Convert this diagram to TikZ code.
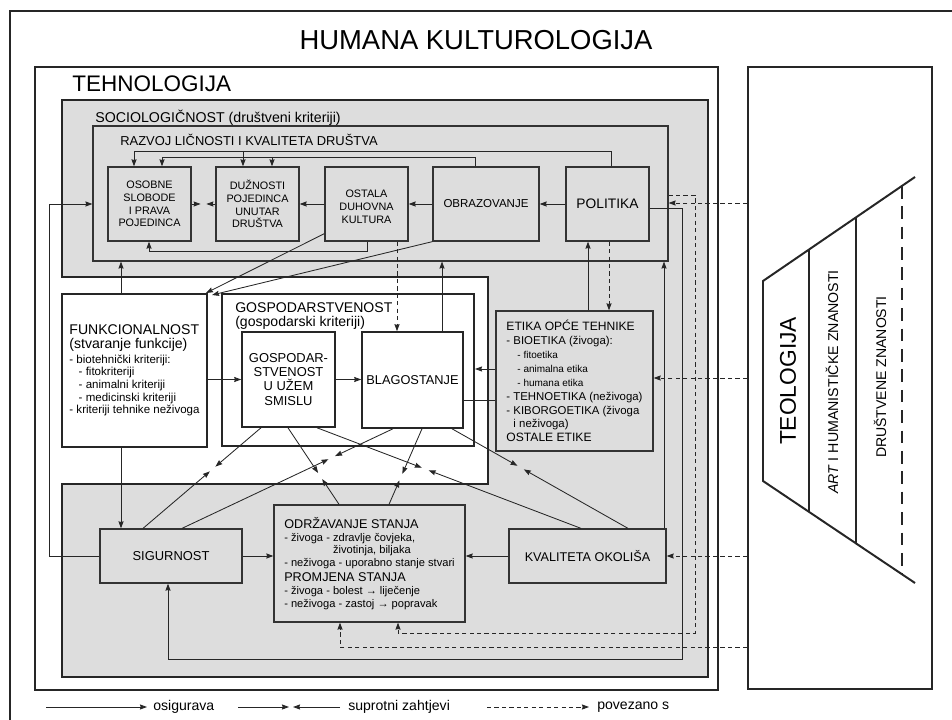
\documentclass[tikz,border=0pt]{standalone}
\usepackage{fontspec}
\setmainfont{Liberation Sans}
\usetikzlibrary{positioning,calc,arrows.meta}
\definecolor{panelgray}{gray}{0.865}
\tikzset{
  sz/.style 2 args={minimum width=#1*0.025cm, minimum height=#2*0.025cm},
  frame/.style={draw=black!85, line width=1.5pt},
  box/.style={draw=black!80, line width=0.9pt, fill=panelgray, align=center, inner sep=0pt},
  wbox/.style={draw=black!85, line width=1.4pt, fill=white, align=center, inner sep=0pt},
  osig/.style={draw=black!85, line width=0.6pt, -{Stealth[length=5pt,width=3.6pt,inset=0.5pt]}},
  pov/.style={osig, dash pattern=on 3pt off 2.3pt},
  lbl/.style={anchor=base west, inner sep=0pt},
}
\newcommand{\fsz}[2]{\fontsize{#1}{#2}\selectfont}

\begin{document}
\begin{tikzpicture}[x=0.025cm, y=-0.025cm]
\useasboundingbox (0,0) rectangle (952,720);

% outer frame and title
\draw[frame] (10,720) -- (10,11) -- (952,11);
\node[inner sep=0pt, anchor=base, font=\fsz{19.5}{22}] (title) at (476,50) {HUMANA KULTUROLOGIJA};

% tehnologija
\node[frame, sz={683}{623}] (tehno) at (376.5,378.5) {};
\node[lbl, font=\fsz{16}{18}] (tehnol) at (72,92) {TEHNOLOGIJA};

% gray region (sociologicnost + right column + lower part)
\draw[frame, fill=panelgray] (62,100) -- (708,100) -- (708,677) -- (62,677) -- (62,484)
  -- (488,484) -- (488,277) -- (62,277) -- cycle;
\node[lbl, font=\fsz{10.1}{12}] (socio) at (95,123) {SOCIOLOGIČNOST (društveni kriteriji)};

\node[draw=black!80, line width=0.8pt, sz={575}{135}] (razvoj) at (380.5,193.5) {};
\node[lbl, font=\fsz{9.2}{11}] (razvojl) at (120,146) {RAZVOJ LIČNOSTI I KVALITETA DRUŠTVA};

% upper row
\node[box, sz={83}{74}, font=\fsz{7.7}{9.1}] (osob) at (149.5,204) {OSOBNE\\SLOBODE\\I PRAVA\\POJEDINCA};
\node[box, sz={83}{74}, font=\fsz{7.7}{9.1}] (duz) at (257.5,204) {DUŽNOSTI\\POJEDINCA\\UNUTAR\\DRUŠTVA};
\node[box, sz={83}{74}, font=\fsz{7.7}{9.1}] (ostala) at (366.5,204) {\mbox{}\\OSTALA\\DUHOVNA\\KULTURA};
\node[box, sz={106}{74}, font=\fsz{8.2}{9.1}] (obraz) at (486,204) {OBRAZOVANJE};
\node[box, sz={83}{74}, font=\fsz{9.8}{11}] (polit) at (607.5,204) {POLITIKA};

% middle part
\node[wbox, sz={145}{153}, align=left, font=\fsz{8.2}{9}] (funkc) at (134.5,370.5) {%
  {\fsz{10}{9}FUNKCIONALNOST}\\[1.2pt]
  {\fsz{10}{9}(stvaranje funkcije)}\\[1.2pt]
  - biotehnički kriteriji:\\
  \hspace*{6.6pt}- fitokriteriji\\
  \hspace*{6.6pt}- animalni kriteriji\\
  \hspace*{6.6pt}- medicinski kriteriji\\
  - kriteriji tehnike neživoga};

\node[wbox, sz={252}{152}] (gosp) at (348,370) {};
\node[anchor=north west, inner sep=0pt, align=left, font=\fsz{10}{10}] (gospl) at (235,302) {GOSPODARSTVENOST\\(gospodarski kriteriji)};
\node[wbox, line width=1.1pt, sz={93}{95}, font=\fsz{9.2}{10}] (guzem) at (288.5,379.5) {GOSPODAR-\\STVENOST\\U UŽEM\\SMISLU};
\node[wbox, line width=1.1pt, sz={101}{96}, font=\fsz{9.1}{10}] (blag) at (412.5,380) {BLAGOSTANJE};

\node[box, sz={157}{140}, align=left, font=\fsz{8.1}{9.9}] (etika) at (574.5,381) {%
  {\fsz{8.6}{9.9}ETIKA OPĆE TEHNIKE}\\
  - BIOETIKA (živoga):\\
  \hspace*{7.8pt}{\fsz{7.1}{9.9}- fitoetika}\\
  \hspace*{7.8pt}{\fsz{7.1}{9.9}- animalna etika}\\
  \hspace*{7.8pt}{\fsz{7.1}{9.9}- humana etika}\\
  - TEHNOETIKA (neživoga)\\
  - KIBORGOETIKA (živoga\\
  \hspace*{5pt}i neživoga)\\
  {\fsz{8.6}{9.9}OSTALE ETIKE}};

% lower part
\node[box, sz={142}{54}, font=\fsz{9.2}{10}] (sigur) at (171,556) {SIGURNOST};
\node[box, sz={191}{117}, align=left, font=\fsz{7.9}{9}] (odr) at (369.5,563.5) {%
  {\fsz{9}{9}ODRŽAVANJE STANJA}\\
  - živoga - zdravlje čovjeka,\\
  \phantom{- živoga - }životinja, biljaka\\
  - neživoga - uporabno stanje stvari\\[2pt]
  {\fsz{9}{9}PROMJENA STANJA}\\
  - živoga - bolest → liječenje\\
  - neživoga - zastoj → popravak};
\node[box, sz={157}{54}, font=\fsz{9}{10}] (kval) at (587.5,556) {KVALITETA OKOLIŠA};

% teologija panel
\node[frame, sz={184}{622}] (teo) at (840,378) {};
\coordinate (tA) at (915,177);
\coordinate (tL) at (763,281);
\coordinate (bL) at (763,481);
\coordinate (bA) at (915,583);
\draw[line width=1.4pt, black!85] (tA) -- (tL) -- (bL) -- (bA);
\draw[line width=1.1pt, black!85] ($(tL)!0.3026!(tA)$) -- ($(bL)!0.3026!(bA)$);
\draw[line width=1.1pt, black!85] ($(tL)!0.6118!(tA)$) -- ($(bL)!0.6118!(bA)$);
\draw[line width=1.4pt, black!85, dash pattern=on 9pt off 5.5pt] ($(tL)!0.9145!(tA)$) -- ($(bL)!0.9145!(bA)$);
\node[rotate=90, inner sep=0pt, font=\fsz{16.2}{18}] (teol) at (788,381) {TEOLOGIJA};
\node[rotate=90, inner sep=0pt, font=\fsz{10.1}{12}] (art) at (832,382) {\textit{ART} I HUMANISTIČKE ZNANOSTI};
\node[rotate=90, inner sep=0pt, font=\fsz{10}{12}] (drus) at (880,377) {DRUŠTVENE ZNANOSTI};

% connectors in the upper row
\draw[osig] (polit.west) -- (obraz.east);
\draw[osig] (obraz.west) -- (ostala.east);
\draw[osig] (ostala.west) -- (duz.east);
\draw[osig] (osob.east) -- ++(9,0);
\draw[osig] (duz.west) -- ++(-9,0);
\draw[osig] (611,0 |- polit.north) |- (134,151) -- (134,0 |- osob.north);
\draw[osig] (243,151) -- (243,0 |- duz.north);
\draw[osig] (475,0 |- obraz.north) |- (162,157) -- (162,0 |- osob.north);
\draw[osig] (272,157) -- (272,0 |- duz.north);
\draw[osig] (367,0 |- ostala.south) |- (149,251) -- (149,0 |- osob.south);

% connectors between parts
\draw[osig] ($(ostala.south west)+(0,-8)$) -- ($(funkc.north east)+(-2,0)$);
\draw[osig] (obraz.south west) -- ($(funkc.north east)+(4,2)$);
\draw[osig] (121,0 |- funkc.north) -- (121,0 |- razvoj.south);
\draw[osig] (121,0 |- funkc.south) -- (121,0 |- sigur.north);
\draw[osig] (funkc.east |- guzem.west) -- (guzem.west);
\draw[osig] (guzem.east) -- (guzem.east -| blag.west);
\draw[osig] (442,0 |- blag.north) -- (442,0 |- razvoj.south);
\draw[black!85, line width=0.6pt] (blag.east |- 0,400) -- (etika.west |- 0,400);
\draw[osig] (etika.west |- 0,369) -- (gosp.east |- 0,369);
\draw[osig] (588,0 |- etika.north) -- (588,0 |- polit.south);
\draw[osig] (664,0 |- kval.north) -- (664,0 |- razvoj.south);
\draw[osig] (sigur.west) -| (49,204) -- (razvoj.west |- osob.west);
\draw[osig] (polit.east |- 0,208) -| (682,659) -| (sigur.south -| 168,0);
\draw[osig] (sigur.east) -- (sigur.east -| odr.west);
\draw[osig] (kval.west) -- (kval.west -| odr.east);

% opposing demands
\coordinate (g1) at (261,0 |- guzem.south);
\coordinate (g2) at (288,0 |- guzem.south);
\coordinate (g3) at (317,0 |- guzem.south);
\coordinate (b1) at (393,0 |- blag.south);
\coordinate (b2) at (422,0 |- blag.south);
\coordinate (b3) at (452,0 |- blag.south);
\coordinate (s1) at (143,0 |- sigur.north);
\coordinate (s2) at (182,0 |- sigur.north);
\coordinate (o1) at (339,0 |- odr.north);
\coordinate (o2) at (389,0 |- odr.north);
\coordinate (k1) at (581,0 |- kval.north);
\coordinate (k2) at (628,0 |- kval.north);
\draw[osig] (g1) -- ($(g1)!0.41!(s1)!2.6pt!(g1)$);
\draw[osig] (s1) -- ($(g1)!0.41!(s1)!2.6pt!(s1)$);
\draw[osig] (b1) -- ($(b1)!0.29!(s2)!2.6pt!(b1)$);
\draw[osig] (s2) -- ($(b1)!0.29!(s2)!2.6pt!(s2)$);
\draw[osig] (g2) -- ($(g2)!0.63!(o1)!2.6pt!(g2)$);
\draw[osig] (o1) -- ($(g2)!0.63!(o1)!2.6pt!(o1)$);
\draw[osig] (b2) -- ($(b2)!0.64!(o2)!2.6pt!(b2)$);
\draw[osig] (o2) -- ($(b2)!0.64!(o2)!2.6pt!(o2)$);
\draw[osig] (g3) -- ($(g3)!0.41!(k1)!2.6pt!(g3)$);
\draw[osig] (k1) -- ($(g3)!0.41!(k1)!2.6pt!(k1)$);
\draw[osig] (b3) -- ($(b3)!0.39!(k2)!2.6pt!(b3)$);
\draw[osig] (k2) -- ($(b3)!0.39!(k2)!2.6pt!(k2)$);

% dashed links
\draw[pov] (397,0 |- ostala.south) -- (397,0 |- blag.north);
\draw[pov] (609,0 |- polit.south) -- (609,0 |- etika.north);
\draw[pov] (teo.west |- 0,203) -- (razvoj.east |- 0,203);
\draw[pov] (razvoj.east |- 0,195) -| (695,633) -| (odr.south -| 398,0);
\draw[pov] (teo.west |- 0,378) -- (etika.east |- 0,378);
\draw[pov] (teo.west |- kval.east) -- (kval.east);
\draw[pov] (teo.west |- 0,647) -| (odr.south -| 340,0);

% legend
\coordinate (a1s) at (46,707);
\coordinate (a1e) at (147,707);
\draw[osig] (a1s) -- (a1e);
\node[right=0.15cm of a1e, inner sep=0pt, font=\fsz{10}{12}] (leg1) {osigurava};
\coordinate (a2s) at (238,707);
\coordinate (a2m) at (289,707);
\coordinate (a2n) at (293,707);
\coordinate (a2e) at (340,707);
\draw[osig] (a2s) -- (a2m);
\draw[osig] (a2e) -- (a2n);
\node[right=0.2cm of a2e, inner sep=0pt, font=\fsz{10}{12}] (leg2) {suprotni zahtjevi};
\coordinate (a3s) at (487,707);
\coordinate (a3e) at (589,707);
\draw[pov] (a3s) -- (a3e);
\node[right=0.2cm of a3e, inner sep=0pt, font=\fsz{10}{12}] (leg3) {povezano s};
\end{tikzpicture}
\end{document}
